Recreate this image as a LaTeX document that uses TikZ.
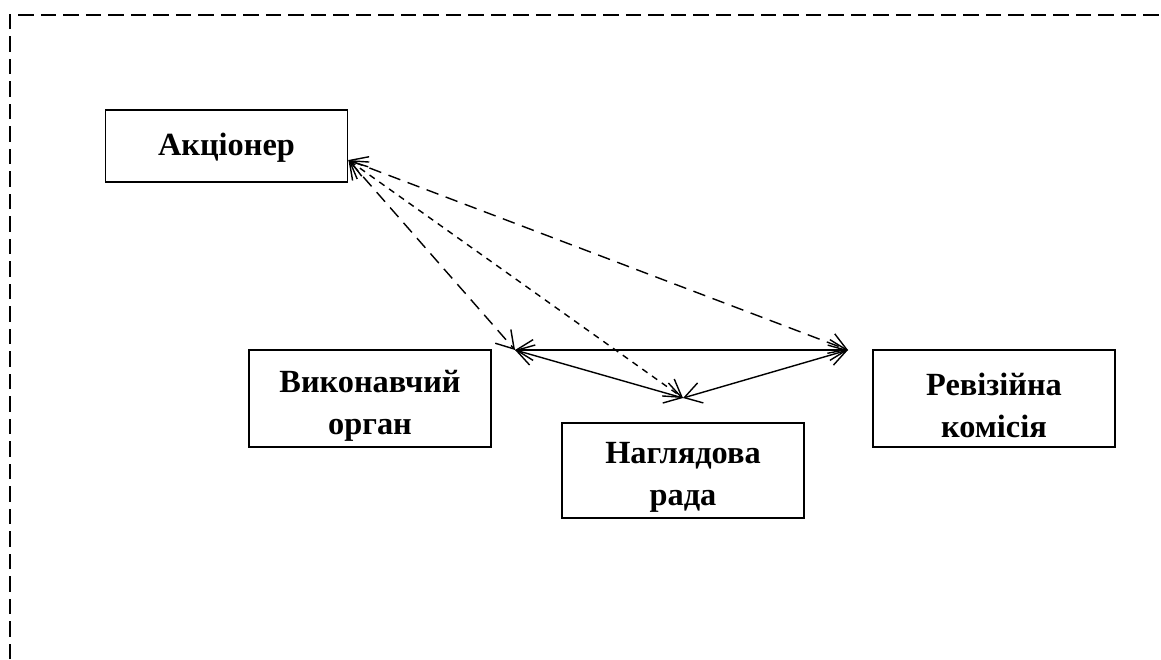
\documentclass[tikz,border=0pt]{standalone}
\usepackage{fontspec}
\setmainfont{Liberation Serif}
\usetikzlibrary{arrows.meta,positioning}

\begin{document}
\begin{tikzpicture}[x=0.025cm,y=-0.025cm,
  every node/.style={font=\fontsize{23}{30}\selectfont\bfseries},
  unit/.style={draw,line width=1.3pt,minimum width=6.05cm,minimum height=2.42cm,inner sep=0pt},
  caption/.style={align=center,yshift=-5pt},
  link/.style={line width=1pt,{Straight Barb[length=4.2mm,width=5.2mm]}-{Straight Barb[length=4.2mm,width=5.2mm]}}]
  \useasboundingbox (0,0) rectangle (1161,659);
  % frame
  \draw[line width=1.2pt,dash pattern=on 11pt off 5pt] (10,659) -- (10,15) -- (1161,15);
  % units
  \node[unit,minimum height=1.8cm,label={[caption,yshift=3.5pt]center:Акціонер}] (share) at (226.5,146) {};
  \node[unit,label={[caption]center:Виконавчий\\орган}] (exec) at (370,398.5) {};
  \node[unit,minimum height=2.38cm,label={[caption]center:Наглядова\\рада}] (board) at (683,470.5) {};
  \node[unit,label={[caption]center:Ревізійна\\комісія}] (audit) at (994,398.5) {};
  % free ends
  \coordinate (a) at (share.east |- 0,160);
  \coordinate (e) at (515,350);
  \coordinate (b) at (683,398);
  \coordinate (r) at (848,350);
  \draw[link,dash pattern=on 9pt off 5.5pt] (a) -- (e);
  \draw[link,dash pattern=on 4.5pt off 4pt] (a) -- (b);
  \draw[link,dash pattern=on 9pt off 5.5pt] (a) -- (r);
  \draw[link] (e) -- (r);
  \draw[link] (e) -- (b);
  \draw[link] (b) -- (r);
\end{tikzpicture}
\end{document}
